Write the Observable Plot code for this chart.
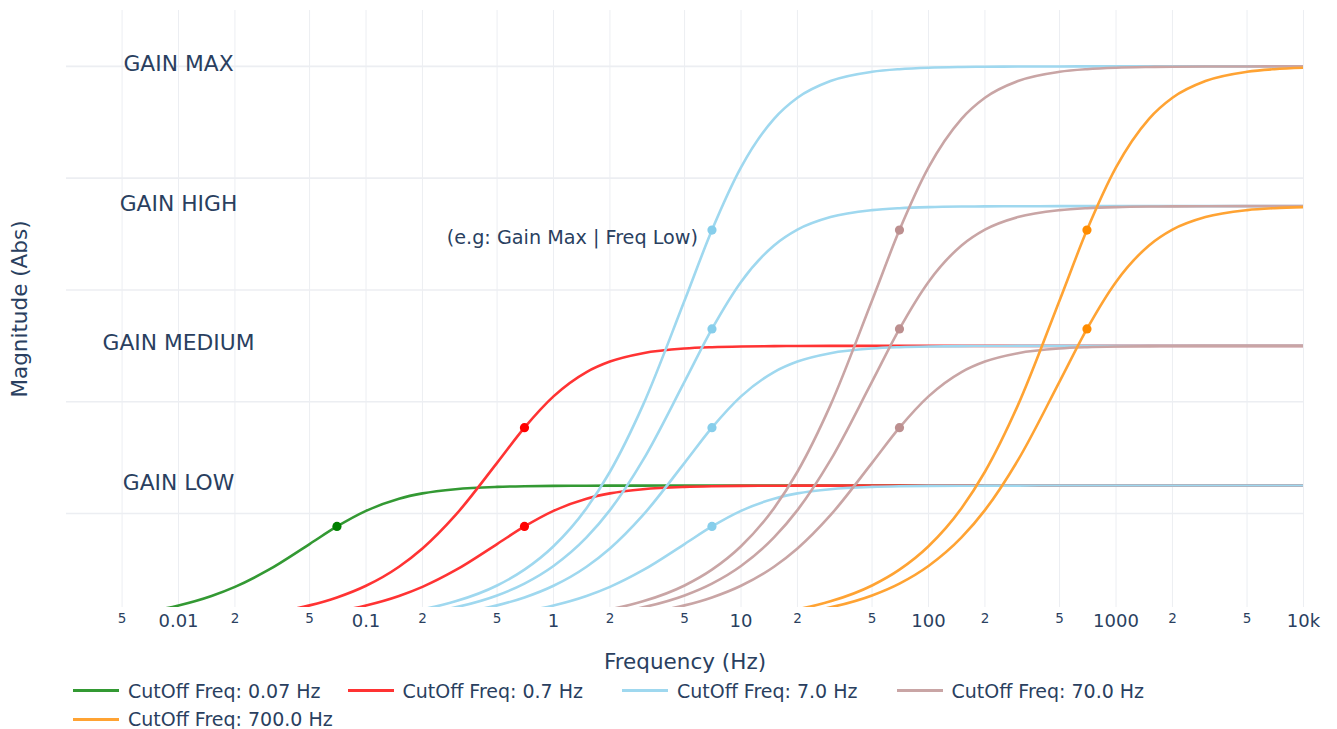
<!DOCTYPE html>
<html><head><meta charset="utf-8">
<script src="https://cdn.jsdelivr.net/npm/d3@7"></script>
<script src="https://cdn.jsdelivr.net/npm/@observablehq/plot@0.6"></script>
<style>
body{margin:0;background:#fff;font-family:"DejaVu Sans",sans-serif;}
#chart{position:relative;width:1337px;}
#legend{position:relative;width:1337px;height:49px;}
.item{position:absolute;display:flex;align-items:center;height:24px;font-size:19px;color:#2a3f5f;white-space:nowrap;}
.sw{width:46px;height:0;border-top:3px solid;margin-right:9px;}
</style></head><body>
<div id="chart"></div><div id="legend"></div>
<script>
// Frequency samples (Hz); every series ends at 10 kHz and is right-aligned to this list
const freqs = [0.005, 0.007,
  0.01, 0.015, 0.02, 0.03, 0.05, 0.07,
  0.1, 0.15, 0.2, 0.3, 0.5, 0.7,
  1, 1.5, 2, 3, 5, 7,
  10, 15, 20, 30, 50, 70,
  100, 150, 200, 300, 500, 700,
  1000, 1500, 2000, 3000, 5000, 7000,
  10000];

// Magnitudes
const green025 = [0.0178, 0.0249,
  0.0354, 0.0524, 0.0687, 0.0985, 0.1453, 0.1768,
  0.2048, 0.2265, 0.2360, 0.2435, 0.2476, 0.2488,
  0.2494, 0.2497, 0.2498, 0.2499, 0.25, 0.25,
  0.25, 0.25, 0.25, 0.25, 0.25, 0.25,
  0.25, 0.25, 0.25, 0.25, 0.25, 0.25,
  0.25, 0.25, 0.25, 0.25, 0.25, 0.25,
  0.25];
const red05 = [0.0143, 0.0214, 0.0356, 0.0498,
  0.0707, 0.1048, 0.1374, 0.1970, 0.2906, 0.3536,
  0.4096, 0.4531, 0.4719, 0.4869, 0.4952, 0.4975,
  0.4988, 0.4995, 0.4997, 0.4999, 0.5, 0.5,
  0.5, 0.5, 0.5, 0.5, 0.5, 0.5,
  0.5, 0.5, 0.5, 0.5, 0.5, 0.5,
  0.5];
const red025 = [0.0178, 0.0249,
  0.0354, 0.0524, 0.0687, 0.0985, 0.1453, 0.1768,
  0.2048, 0.2265, 0.2360, 0.2435, 0.2476, 0.2488,
  0.2494, 0.2497, 0.2498, 0.2499, 0.25, 0.25,
  0.25, 0.25, 0.25, 0.25, 0.25, 0.25,
  0.25, 0.25, 0.25, 0.25, 0.25, 0.25,
  0.25];
const blue1 = [0.0214, 0.0286, 0.0428, 0.0712, 0.0995,
  0.1414, 0.2095, 0.2747, 0.3939, 0.5812, 0.7071,
  0.8192, 0.9062, 0.9439, 0.9738, 0.9903, 0.9950,
  0.9976, 0.9989, 0.9994, 0.9997, 0.9999, 1,
  1, 1, 1, 1, 1, 1,
  1];
const blue075 = [0.0161, 0.0214, 0.0321, 0.0534, 0.0746,
  0.1061, 0.1572, 0.2060, 0.2954, 0.4359, 0.5303,
  0.6144, 0.6796, 0.7079, 0.7304, 0.7428, 0.7463,
  0.7482, 0.7492, 0.7495, 0.7498, 0.7499, 0.75,
  0.75, 0.75, 0.75, 0.75, 0.75, 0.75,
  0.75];
const blue05 = [0.0143, 0.0214, 0.0356, 0.0498,
  0.0707, 0.1048, 0.1374, 0.1970, 0.2906, 0.3536,
  0.4096, 0.4531, 0.4719, 0.4869, 0.4952, 0.4975,
  0.4988, 0.4995, 0.4997, 0.4999, 0.5, 0.5,
  0.5, 0.5, 0.5, 0.5, 0.5, 0.5,
  0.5];
const blue025 = [0.0178, 0.0249,
  0.0354, 0.0524, 0.0687, 0.0985, 0.1453, 0.1768,
  0.2048, 0.2265, 0.2360, 0.2435, 0.2476, 0.2488,
  0.2494, 0.2497, 0.2498, 0.2499, 0.25, 0.25,
  0.25, 0.25, 0.25, 0.25, 0.25, 0.25,
  0.25];
const brown1 = [0.0214, 0.0286, 0.0428, 0.0712, 0.0995,
  0.1414, 0.2095, 0.2747, 0.3939, 0.5812, 0.7071,
  0.8192, 0.9062, 0.9439, 0.9738, 0.9903, 0.9950,
  0.9976, 0.9989, 0.9994, 0.9997, 0.9999, 1,
  1];
const brown075 = [0.0161, 0.0214, 0.0321, 0.0534, 0.0746,
  0.1061, 0.1572, 0.2060, 0.2954, 0.4359, 0.5303,
  0.6144, 0.6796, 0.7079, 0.7304, 0.7428, 0.7463,
  0.7482, 0.7492, 0.7495, 0.7498, 0.7499, 0.75,
  0.75];
const brown05 = [0.0143, 0.0214, 0.0356, 0.0498,
  0.0707, 0.1048, 0.1374, 0.1970, 0.2906, 0.3536,
  0.4096, 0.4531, 0.4719, 0.4869, 0.4952, 0.4975,
  0.4988, 0.4995, 0.4997, 0.4999, 0.5, 0.5,
  0.5];
const orange1 = [0.0214, 0.0286, 0.0428, 0.0712, 0.0995,
  0.1414, 0.2095, 0.2747, 0.3939, 0.5812, 0.7071,
  0.8192, 0.9062, 0.9439, 0.9738, 0.9903, 0.9950,
  0.9976];
const orange075 = [0.0161, 0.0214, 0.0321, 0.0534, 0.0746,
  0.1061, 0.1572, 0.2060, 0.2954, 0.4359, 0.5303,
  0.6144, 0.6796, 0.7079, 0.7304, 0.7428, 0.7463,
  0.7482];

// Cut-off markers
const dotFreq = [0.07, 0.7, 0.7, 7, 7, 7, 7, 70, 70, 70, 700, 700];
const dotMag  = [0.1768, 0.3536, 0.1768, 0.7071, 0.5303, 0.3536, 0.1768, 0.7071, 0.5303, 0.3536, 0.7071, 0.5303];
const dotGroup = [0, 1, 1, 2, 2, 2, 2, 3, 3, 3, 4, 4];

const groupNames = ["CutOff Freq: 0.07 Hz", "CutOff Freq: 0.7 Hz", "CutOff Freq: 7.0 Hz", "CutOff Freq: 70.0 Hz", "CutOff Freq: 700.0 Hz"];
const dotColors  = ["#008000", "#ff0000", "#87ceeb", "#bc8f8f", "#ff8c00"];
const lineColors = ["#339933", "#ff3333", "#9fd8ef", "#c9a5a5", "#ffa333"];

const gainLabels = ["GAIN MAX", "GAIN HIGH", "GAIN MEDIUM", "GAIN LOW"];
const gainLevels = [1, 0.75, 0.5, 0.25];
const gainLabelFreq = [0.01, 0.01, 0.01, 0.01];
const noteText = ["(e.g: Gain Max | Freq Low)"];

const gridX = [0.005, 0.01, 0.02, 0.05, 0.1, 0.2, 0.5, 1, 2, 5, 10, 20, 50, 100, 200, 500, 1000, 2000, 5000, 10000];
const gridY = [0.2, 0.4, 0.6, 0.8, 1.0];
const majorTicks = [0.01, 0.1, 1, 10, 100, 1000, 10000];
const majorLabels = ["0.01", "0.1", "1", "10", "100", "1000", "10k"];
const minorTicks = [0.005, 0.02, 0.05, 0.2, 0.5, 2, 5, 20, 50, 200, 500, 2000, 5000];
const minorLabels = ["5", "2", "5", "2", "5", "2", "5", "2", "5", "2", "5", "2", "5"];

const xDomain = [0.002527, 10000];
const yDomain = [0.0318, 1.1];

const seriesList = [
  {g: 0, values: green025},
  {g: 1, values: red05}, {g: 1, values: red025},
  {g: 2, values: blue1}, {g: 2, values: blue075}, {g: 2, values: blue05}, {g: 2, values: blue025},
  {g: 3, values: brown1}, {g: 3, values: brown075}, {g: 3, values: brown05},
  {g: 4, values: orange1}, {g: 4, values: orange075}
];

function toRows(values) {
  const off = freqs.length - values.length;
  return values.map((v, i) => ({f: freqs[off + i], v}));
}

const ink = "#2a3f5f";
const gridColor = "#eceef2";

const marks = [
  Plot.ruleX(gridX, {x: d => d, y1: yDomain[0], y2: yDomain[1], stroke: gridColor, strokeWidth: 1}),
  Plot.ruleY(gridY, {y: d => d, x1: xDomain[0], x2: xDomain[1], stroke: gridColor, strokeWidth: 1.6}),
  ...seriesList.map(s => Plot.line(toRows(s.values), {
    x: "f", y: "v", stroke: lineColors[s.g], strokeWidth: 2.6,
    curve: "monotone-x", clip: true
  })),
  Plot.dot(dotFreq, {x: d => d, y: (d, i) => dotMag[i], r: 4.6, fill: (d, i) => dotColors[dotGroup[i]], stroke: null}),
  Plot.text(gainLabels, {x: (d, i) => gainLabelFreq[i], y: (d, i) => gainLevels[i], text: d => d, fontSize: 21.8, dy: -2.5, fill: ink}),
  Plot.text(noteText, {x: () => dotFreq[3], y: () => dotMag[3], text: d => d, textAnchor: "end", dx: -14, dy: 8, fontSize: 19.2, fill: ink}),
  Plot.text(majorTicks, {x: d => d, text: (d, i) => majorLabels[i], frameAnchor: "bottom", lineAnchor: "middle", dy: 14.2, fontSize: 18, fill: ink}),
  Plot.text(minorTicks, {x: d => d, text: (d, i) => minorLabels[i], frameAnchor: "bottom", lineAnchor: "middle", dy: 11, fontSize: 13.5, fill: ink}),
  Plot.text(["Magnitude (Abs)"], {frameAnchor: "left", textAnchor: "middle", lineAnchor: "middle", dx: -46, rotate: -90, text: d => d, fontSize: 21.5, fill: ink}),
  Plot.text(["Frequency (Hz)"], {frameAnchor: "bottom", lineAnchor: "middle", dy: 55, text: d => d, fontSize: 21.5, fill: ink})
];

const chart = Plot.plot({
  width: 1337,
  height: 680,
  marginTop: 10,
  marginBottom: 73,
  marginLeft: 66,
  marginRight: 34,
  x: {type: "log", domain: xDomain, axis: null},
  y: {domain: yDomain, axis: null},
  style: {fontFamily: "DejaVu Sans", background: "#fff", overflow: "visible"},
  marks
});
document.getElementById("chart").appendChild(chart);

// Legend (HTML, below the SVG)
const legend = document.getElementById("legend");
const rowCenters = [10.7, 39.3];
groupNames.forEach((name, i) => {
  const row = Math.floor(i / 4), col = i % 4;
  const item = document.createElement("div");
  item.className = "item";
  item.style.left = (73 + col * 274.5) + "px";
  item.style.top = (rowCenters[row] - 12) + "px";
  const sw = document.createElement("span");
  sw.className = "sw";
  sw.style.borderTopColor = lineColors[i];
  const tx = document.createElement("span");
  tx.textContent = name;
  item.appendChild(sw);
  item.appendChild(tx);
  legend.appendChild(item);
});
</script></body></html>
